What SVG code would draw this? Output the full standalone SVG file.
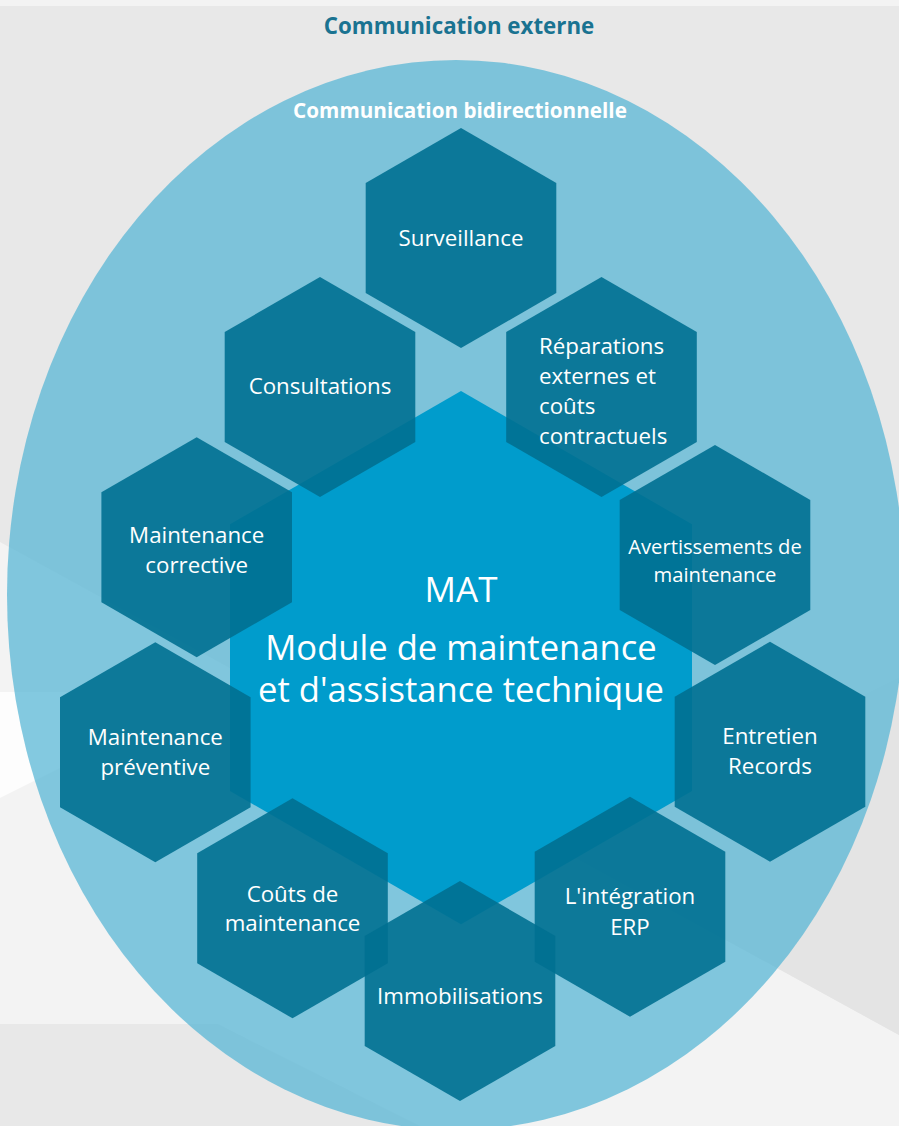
<svg xmlns="http://www.w3.org/2000/svg" xmlns:xlink="http://www.w3.org/1999/xlink" width="899" height="1126" viewBox="0 0 899 1126">
<defs>
<style>
.hex{fill:#007091;fill-opacity:0.9}
.t{font-family:"Open Sans","Noto Sans","Liberation Sans",sans-serif;fill:#ffffff;font-size:22.3px;text-anchor:middle}
.ts{font-size:20.2px}
.big{font-size:34.6px}
.mat{font-size:35px}
.ttl{font-family:"Open Sans","Noto Sans","Liberation Sans",sans-serif;font-weight:700;text-anchor:middle}
</style>
<path id="hx" d="M0,-110 L95.3,-55 L95.3,55 L0,110 L-95.3,55 L-95.3,-55 Z"/>
</defs>
<g id="background">
<rect x="0" y="0" width="899" height="1126" fill="#e8e8e8"/>
<rect x="0" y="0" width="899" height="6" fill="#f3f3f3"/>
<polygon points="0,542 899,1035 899,1126 0,1126" fill="#f3f3f3"/>
<polygon points="899,677 558,848 899,1035" fill="#e4e4e4"/>
<polygon points="0,692 212,692 0,798" fill="#fdfdfd"/>
<polygon points="0,1024 218,1024 420,1126 0,1126" fill="#e8e8e8"/>
</g>
<g id="outer-ellipse">
<ellipse cx="456" cy="595" rx="449" ry="535" fill="rgb(89,183,213)" fill-opacity="0.75"/>
</g>
<g id="labels-communication">
<text class="ttl" x="459" y="34" style="font-size:22.3px" fill="#1a7391">Communication externe</text>
<text class="ttl" x="460" y="118" style="font-size:20.7px" fill="#ffffff">Communication bidirectionnelle</text>
</g>
<g id="mat">
<polygon points="461,391 692,524.3 692,791 461,924.3 230,791 230,524.3" fill="#009ccc"/>
<text class="t mat" x="461" y="602">MAT</text>
<text class="t big" x="461" y="660">Module de maintenance</text>
<text class="t big" x="461" y="702">et d'assistance technique</text>
</g>
<g id="surveillance">
<use xlink:href="#hx" href="#hx" class="hex" x="461" y="238"/>
<text class="t" x="461" y="246">Surveillance</text>
</g>
<g id="consultations">
<use xlink:href="#hx" href="#hx" class="hex" x="320" y="387"/>
<text class="t" x="320" y="394">Consultations</text>
</g>
<g id="reparations">
<use xlink:href="#hx" href="#hx" class="hex" x="601.5" y="387"/>
<text class="t" style="text-anchor:start" x="539" y="354">Réparations</text>
<text class="t" style="text-anchor:start" x="539" y="384">externes et</text>
<text class="t" style="text-anchor:start" x="539" y="414">coûts</text>
<text class="t" style="text-anchor:start" x="539" y="444">contractuels</text>
</g>
<g id="maintenance-corrective">
<use xlink:href="#hx" href="#hx" class="hex" x="196.7" y="547.3"/>
<text class="t" x="196.7" y="543">Maintenance</text>
<text class="t" x="196.7" y="573">corrective</text>
</g>
<g id="avertissements">
<use xlink:href="#hx" href="#hx" class="hex" x="715" y="555"/>
<text class="t ts" x="715" y="554">Avertissements de</text>
<text class="t ts" x="715" y="582">maintenance</text>
</g>
<g id="maintenance-preventive">
<use xlink:href="#hx" href="#hx" class="hex" x="155.3" y="752.3"/>
<text class="t" x="155.3" y="745">Maintenance</text>
<text class="t" x="155.3" y="775">préventive</text>
</g>
<g id="entretien-records">
<use xlink:href="#hx" href="#hx" class="hex" x="770" y="751.7"/>
<text class="t" x="770" y="744">Entretien</text>
<text class="t" x="770" y="774">Records</text>
</g>
<g id="couts-maintenance">
<use xlink:href="#hx" href="#hx" class="hex" x="292.5" y="908.3"/>
<text class="t" x="292.5" y="902">Coûts de</text>
<text class="t" x="292.5" y="931">maintenance</text>
</g>
<g id="integration-erp">
<use xlink:href="#hx" href="#hx" class="hex" x="630" y="906.7"/>
<text class="t" x="630" y="904">L'intégration</text>
<text class="t" x="630" y="935">ERP</text>
</g>
<g id="immobilisations">
<use xlink:href="#hx" href="#hx" class="hex" x="460" y="991"/>
<text class="t" x="460" y="1004">Immobilisations</text>
</g>
<g id="connectors"/>
</svg>
